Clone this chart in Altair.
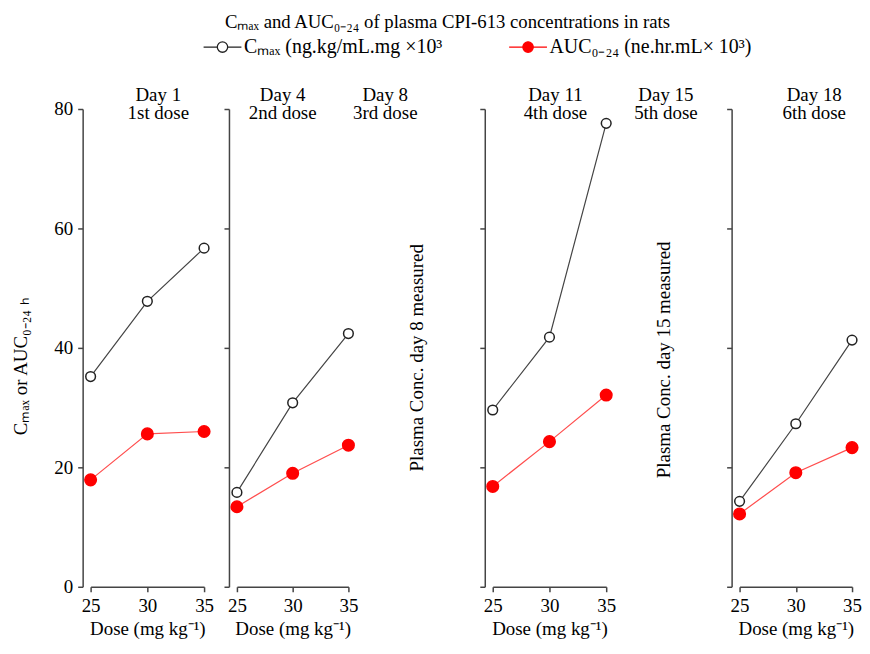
import altair as alt
import pandas as pd

FONT = "Liberation Serif"

# ---------------- data ----------------
doses = [25, 30, 35]
days = ["Day 1", "Day 4", "Day 11", "Day 18"]
dose_names = ["1st dose", "2nd dose", "4th dose", "6th dose"]
series_names = ["Cₘₐₓ (ng.kg/mL.mg ×10³", "AUC₀₋₂₄ (ne.hr.mL× 10³)"]
series_keys = ["cmax", "auc"]

cmax_day1 = [35.2, 47.8, 56.7]
cmax_day4 = [15.8, 30.8, 42.4]
cmax_day11 = [29.6, 41.8, 77.6]
cmax_day18 = [14.3, 27.3, 41.3]

auc_day1 = [17.9, 25.6, 26.0]
auc_day4 = [13.4, 19.0, 23.7]
auc_day11 = [16.8, 24.3, 32.1]
auc_day18 = [12.2, 19.1, 23.3]

gap_days = ["Day 8", "Day 15"]
gap_dose_names = ["3rd dose", "5th dose"]
gap_notes = ["Plasma Conc. day 8 measured", "Plasma Conc. day 15 measured"]

y_ticks = [0, 20, 40, 60, 80]
title_text = "Cₘₐₓ and AUC₀₋₂₄ of plasma CPI-613 concentrations in rats"
y_title = "Cₘₐₓ or AUC₀₋₂₄ ₕ"
x_title = "Dose (mg kg⁻¹)"

# ---------------- layout ----------------
H = 480
# line-with-circle legend glyph (path units: 1 unit = sqrt(symbolSize)/2 px)
PATH = ("M-2,0L-0.55,0M0.55,0L2,0"
        "M0.55,0A0.55,0.55,0,1,1,-0.55,0A0.55,0.55,0,1,1,0.55,0Z")

stroke_scale = alt.Scale(domain=series_names, range=["#222222", "#ff0000"])
fill_scale = alt.Scale(domain=series_names, range=["#ffffff", "#ff0000"])
line_scale = alt.Scale(domain=series_keys, range=["#444444", "#ff4d4d"])
size_scale = alt.Scale(domain=series_keys, range=[95, 135])

legend = alt.Legend(
    title=None, orient="none", legendX=122, legendY=-73,
    direction="horizontal", symbolType=PATH, symbolSize=361,
    symbolStrokeWidth=1.3, labelFont=FONT, labelFontSize=20,
    labelColor="black", labelOffset=11, columnPadding=63, labelLimit=400,
)


def panel(day, dname, cm, au, width, head_x, first):
    df = pd.DataFrame({
        "dose": doses + doses,
        "value": cm + au,
        "series": [series_names[0]] * 3 + [series_names[1]] * 3,
        "key": [series_keys[0]] * 3 + [series_keys[1]] * 3,
    })
    x = alt.X("dose:Q", scale=alt.Scale(domain=[25, 35], nice=False, zero=False),
              axis=alt.Axis(values=doses, title=x_title, format="d",
                            titlePadding=4, labelFlush=False))
    yaxis_kw = dict(values=y_ticks, offset=8, labels=first)
    if first:
        yaxis_kw.update(title=y_title, titleAngle=270, titleX=-62, titleY=258,
                        titleAlign="center", titleBaseline="middle")
    else:
        yaxis_kw.update(title="")
    y = alt.Y("value:Q", scale=alt.Scale(domain=[0, 80], nice=False),
              axis=alt.Axis(**yaxis_kw))
    base = alt.Chart(df)
    line = base.mark_line(strokeWidth=1.2).encode(
        x=x, y=y,
        color=alt.Color("key:N", scale=line_scale, legend=None),
    )
    pts = base.mark_point(filled=True, strokeWidth=1.5, opacity=1).encode(
        x=x, y=y,
        fill=alt.Fill("series:N", scale=fill_scale, legend=legend),
        stroke=alt.Stroke("series:N", scale=stroke_scale, legend=legend),
        size=alt.Size("key:N", scale=size_scale, legend=None),
    )
    head = alt.Chart(pd.DataFrame({"day": [day], "dn": [dname]})).transform_calculate(
        t="[datum.day, datum.dn]"
    ).mark_text(font=FONT, fontSize=19, lineHeight=18, align="center",
                baseline="alphabetic", color="black").encode(
        x=alt.value(head_x), y=alt.value(-8), text="t:N")
    return alt.layer(line, pts, head).properties(width=width, height=H)


def gap(day, dname, note, width, head_x, note_x, note_y):
    d = pd.DataFrame({"day": [day], "dn": [dname], "note": [note]})
    head = alt.Chart(d).transform_calculate(t="[datum.day, datum.dn]").mark_text(
        font=FONT, fontSize=19, lineHeight=18, align="center",
        baseline="alphabetic", color="black").encode(
        x=alt.value(head_x), y=alt.value(-8), text="t:N")
    note_m = alt.Chart(d).mark_text(
        font=FONT, fontSize=19, angle=270, align="center", baseline="middle",
        color="black").encode(x=alt.value(note_x), y=alt.value(note_y), text="note:N")
    return alt.layer(head, note_m).properties(width=width, height=H)


p1 = panel(days[0], dose_names[0], cmax_day1, auc_day1, 114, 68, True)
p2 = panel(days[1], dose_names[1], cmax_day4, auc_day4, 112, 46, False)
g1 = gap(gap_days[0], gap_dose_names[0], gap_notes[0], 79, 4, 36, 250)
p3 = panel(days[2], dose_names[2], cmax_day11, auc_day11, 114, 63, False)
g2 = gap(gap_days[1], gap_dose_names[1], gap_notes[1], 68, 27, 25, 252)
p4 = panel(days[3], dose_names[3], cmax_day18, auc_day18, 113, 75, False)

chart = alt.hconcat(
    p1, p2, g1, p3, g2, p4, spacing=33, bounds="flush",
).resolve_scale(
    fill="shared", size="shared", stroke="shared", color="shared"
).properties(
    title=alt.TitleParams(title_text, font=FONT, fontSize=18.8, fontWeight="normal",
                          color="black", anchor="start", dx=214, offset=5),
    padding={"left": 4, "top": 3, "right": 0, "bottom": 0},
).configure_view(
    strokeWidth=0
).configure_axis(
    grid=False, labelFont=FONT, titleFont=FONT, labelFontSize=19,
    titleFontSize=19, titleFontWeight="normal", labelColor="black",
    titleColor="black", domainColor="#444444", tickColor="#444444",
    domainWidth=1.5, tickWidth=1.5, tickSize=5, labelPadding=5,
)

chart.save("out.html", embed_options={"renderer": "svg", "actions": False})
